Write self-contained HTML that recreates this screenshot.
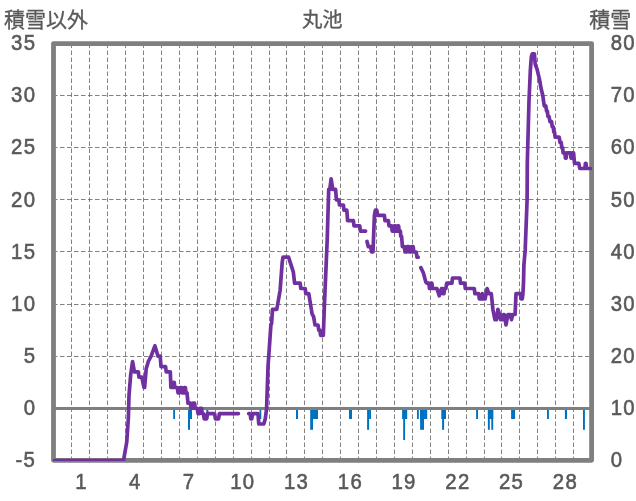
<!DOCTYPE html>
<html lang="ja"><head><meta charset="utf-8"><title>丸池</title>
<style>html,body{margin:0;padding:0;background:#fff}svg{display:block}text{font-family:"Liberation Sans","Noto Sans CJK JP",sans-serif;fill:#595959}</style></head><body>
<svg width="636" height="501" viewBox="0 0 636 501">
<rect width="636" height="501" fill="#fff"/>
<g stroke="#747474" stroke-width="0.9" stroke-dasharray="4.5 2.5" fill="none"><line x1="71.50" y1="43.5" x2="71.50" y2="460.4"/><line x1="89.50" y1="43.5" x2="89.50" y2="460.4"/><line x1="107.50" y1="43.5" x2="107.50" y2="460.4"/><line x1="125.50" y1="43.5" x2="125.50" y2="460.4"/><line x1="143.50" y1="43.5" x2="143.50" y2="460.4"/><line x1="161.50" y1="43.5" x2="161.50" y2="460.4"/><line x1="179.50" y1="43.5" x2="179.50" y2="460.4"/><line x1="197.50" y1="43.5" x2="197.50" y2="460.4"/><line x1="215.50" y1="43.5" x2="215.50" y2="460.4"/><line x1="233.50" y1="43.5" x2="233.50" y2="460.4"/><line x1="251.50" y1="43.5" x2="251.50" y2="460.4"/><line x1="269.50" y1="43.5" x2="269.50" y2="460.4"/><line x1="286.50" y1="43.5" x2="286.50" y2="460.4"/><line x1="304.50" y1="43.5" x2="304.50" y2="460.4"/><line x1="322.50" y1="43.5" x2="322.50" y2="460.4"/><line x1="340.50" y1="43.5" x2="340.50" y2="460.4"/><line x1="358.50" y1="43.5" x2="358.50" y2="460.4"/><line x1="376.50" y1="43.5" x2="376.50" y2="460.4"/><line x1="394.50" y1="43.5" x2="394.50" y2="460.4"/><line x1="412.50" y1="43.5" x2="412.50" y2="460.4"/><line x1="430.50" y1="43.5" x2="430.50" y2="460.4"/><line x1="448.50" y1="43.5" x2="448.50" y2="460.4"/><line x1="466.50" y1="43.5" x2="466.50" y2="460.4"/><line x1="484.50" y1="43.5" x2="484.50" y2="460.4"/><line x1="501.50" y1="43.5" x2="501.50" y2="460.4"/><line x1="519.50" y1="43.5" x2="519.50" y2="460.4"/><line x1="537.50" y1="43.5" x2="537.50" y2="460.4"/><line x1="555.50" y1="43.5" x2="555.50" y2="460.4"/><line x1="573.50" y1="43.5" x2="573.50" y2="460.4"/><line x1="53.0" y1="95.50" x2="591.6" y2="95.50"/><line x1="53.0" y1="147.50" x2="591.6" y2="147.50"/><line x1="53.0" y1="199.50" x2="591.6" y2="199.50"/><line x1="53.0" y1="251.50" x2="591.6" y2="251.50"/><line x1="53.0" y1="304.50" x2="591.6" y2="304.50"/><line x1="53.0" y1="356.50" x2="591.6" y2="356.50"/></g>
<g fill="#0070c0"><rect x="173.2" y="408.2" width="1.8" height="10.8"/><rect x="188.0" y="408.2" width="2.0" height="21.6"/><rect x="190.0" y="408.2" width="2.0" height="10.8"/><rect x="206.3" y="408.2" width="2.1" height="10.8"/><rect x="259.5" y="408.2" width="1.8" height="10.8"/><rect x="296.0" y="408.2" width="2.0" height="10.8"/><rect x="310.2" y="408.2" width="2.8" height="21.6"/><rect x="313.0" y="408.2" width="5.0" height="10.8"/><rect x="349.0" y="408.2" width="3.0" height="10.8"/><rect x="367.1" y="408.2" width="2.0" height="21.6"/><rect x="369.1" y="408.2" width="1.9" height="10.8"/><rect x="402.1" y="408.2" width="5.1" height="10.8"/><rect x="403.2" y="408.2" width="1.9" height="31.8"/><rect x="417.0" y="408.2" width="1.8" height="10.8"/><rect x="420.1" y="408.2" width="7.1" height="10.8"/><rect x="420.1" y="408.2" width="3.9" height="21.6"/><rect x="441.3" y="408.2" width="4.7" height="10.8"/><rect x="442.1" y="408.2" width="2.0" height="21.6"/><rect x="476.1" y="408.2" width="1.9" height="10.8"/><rect x="487.9" y="408.2" width="5.3" height="10.8"/><rect x="487.9" y="408.2" width="1.9" height="21.6"/><rect x="491.3" y="408.2" width="1.9" height="21.6"/><rect x="511.1" y="408.2" width="4.0" height="10.8"/><rect x="547.0" y="408.2" width="1.9" height="10.8"/><rect x="564.9" y="408.2" width="2.1" height="10.8"/><rect x="583.0" y="408.2" width="1.9" height="21.6"/></g>
<line x1="54.0" y1="408.5" x2="591.6" y2="408.5" stroke="#7f7f7f" stroke-width="2.8"/>
<rect x="53.50" y="43.55" width="538.10" height="416.75" fill="none" stroke="#7f7f7f" stroke-width="4.8" stroke-linejoin="round"/>
<clipPath id="pc"><rect x="52.9" y="40" width="539" height="421"/></clipPath>
<g fill="none" stroke="#7030a0" stroke-width="3.7" stroke-linejoin="round" stroke-linecap="round" clip-path="url(#pc)">
<path d="M54.4 460.6 L123.5 460.6 L126.8 441.8 L128.4 417.3 L129.0 395.4 L130.7 374.5 L132.6 361.5 L134.4 371.9 L138.4 371.9 L138.9 377.1 L141.8 377.1 L144.0 387.5 L144.6 387.5 L146.2 368.8 L148.3 361.5 L151.1 356.2 L154.9 345.8 L158.0 356.2 L160.2 356.2 L161.0 366.7 L165.6 366.7 L166.2 371.9 L170.3 371.9 L170.9 387.5 L172.8 387.5 L173.4 382.3 L174.2 382.3 L174.8 387.5 L177.4 387.5 L178.0 392.8 L179.4 392.8 L180.0 387.5 L181.6 387.5 L182.2 392.8 L183.6 392.8 L184.2 387.5 L185.4 387.5 L186.0 392.8 L187.0 392.8 L188.0 403.2 L190.4 403.2 L191.0 408.4 L192.2 408.4 L192.8 403.2 L194.6 403.2 L195.2 408.4 L197.4 408.4 L198.0 413.6 L199.4 413.6 L200.0 408.4 L201.6 408.4 L202.2 413.6 L203.4 413.6 L204.2 418.8 L206.6 418.8 L207.4 413.6 L214.6 413.6 L215.4 418.8 L218.6 418.8 L219.4 413.6 L238.4 413.6"/>
<path d="M248.7 413.6 L250.2 413.6 L250.8 418.8 L251.8 418.8 L252.6 413.6 L258.0 413.6 L258.8 424.0 L263.8 424.0 L265.3 418.8 L266.6 408.4 L268.0 366.7 L270.0 338.0 L270.9 325.0 L271.6 323.4 L272.5 309.3 L276.8 309.3 L280.1 290.5 L282.2 262.4 L283.0 257.2 L288.6 257.2 L290.2 262.4 L293.3 271.8 L294.6 283.2 L300.2 283.2 L300.8 288.5 L305.2 288.5 L305.8 293.7 L308.8 293.7 L312.1 314.0 L313.6 316.6 L315.0 325.0 L318.0 325.0 L318.8 330.2 L320.0 330.2 L320.6 335.4 L323.3 335.4 L324.5 303.1 L327.2 240.0 L328.7 189.4 L329.8 189.4 L331.1 178.9 L332.8 189.4 L335.6 189.4 L336.4 199.8 L338.8 199.8 L339.5 205.0 L343.4 205.0 L344.0 210.2 L346.8 210.2 L347.6 220.7 L353.4 220.7 L354.0 225.9 L359.8 225.9 L360.4 231.1 L365.6 231.1"/>
<path d="M367.0 241.5 L368.3 246.7 L370.6 246.7 L371.6 252.0 L373.0 252.0 L373.8 231.1 L374.4 215.4 L375.4 210.2 L376.8 210.2 L377.7 215.4 L384.4 215.4 L385.0 220.7 L388.4 220.7 L389.0 225.9 L391.6 225.9 L392.2 231.1 L393.6 231.1 L394.2 225.9 L395.4 225.9 L396.0 231.1 L397.0 231.1 L397.6 225.9 L398.6 225.9 L399.2 231.1 L400.4 231.1 L400.8 236.3 L401.6 236.3 L402.4 246.7 L404.4 246.7 L405.0 252.0 L406.6 252.0 L407.2 246.7 L408.8 246.7 L409.4 252.0 L411.0 252.0 L411.6 246.7 L413.2 246.7 L413.8 252.0 L416.2 252.0 L417.0 257.2 L418.2 257.2"/>
<path d="M420.8 267.6 L423.3 272.8 L425.9 282.2 L426.7 283.2 L428.9 283.2 L429.5 288.5 L430.7 288.5 L431.3 283.2 L431.9 283.2 L432.5 288.5 L436.9 288.5 L439.3 295.8 L441.5 288.5 L442.5 288.5 L443.1 293.7 L443.9 293.7 L444.5 288.5 L445.9 288.5 L446.7 283.2 L451.9 283.2 L452.5 278.0 L459.9 278.0 L460.5 283.2 L464.7 283.2 L465.3 288.5 L474.3 288.5 L474.9 293.7 L478.7 293.7 L479.3 298.9 L481.5 298.9 L482.3 293.7 L483.1 298.9 L485.1 298.9 L487.1 288.5 L488.9 293.7 L491.3 293.7 L492.9 309.3 L494.9 319.7 L496.5 319.7 L497.9 309.3 L499.7 314.5 L500.7 319.7 L502.3 319.7 L503.3 314.5 L504.3 314.5 L506.0 325.0 L507.9 314.5 L510.3 314.5 L511.5 319.7 L512.7 314.5 L515.1 314.5 L516.0 293.7 L520.5 293.7 L521.1 298.9 L522.3 298.9 L522.9 293.7 L523.5 283.2 L523.9 265.0 L525.2 249.9 L527.1 199.8 L527.3 163.3 L529.0 100.7 L530.4 69.4 L531.4 56.4 L532.3 53.8 L534.4 53.8 L535.2 64.2 L537.1 69.4 L539.6 79.9 L540.9 87.7 L542.8 95.5 L543.5 100.7 L544.3 105.9 L545.8 105.9 L546.6 111.1 L547.4 111.1 L547.9 116.4 L549.0 116.4 L550.0 121.6 L551.6 121.6 L552.2 126.8 L553.3 126.8 L553.8 132.0 L554.5 132.0 L555.2 137.2 L559.2 137.2 L560.0 142.4 L561.2 142.4 L561.8 147.7 L562.6 147.7 L563.1 152.9 L565.0 152.9 L565.4 158.1 L566.2 158.1 L566.8 152.9 L570.6 152.9 L571.0 158.1 L571.8 158.1 L572.4 152.9 L573.6 152.9 L574.5 163.3 L578.8 163.3 L579.8 168.5 L584.9 168.5 L585.4 163.3 L586.0 163.3 L586.5 168.5 L590.4 168.5"/>
</g>
<g font-size="21px" stroke="#595959" stroke-width="0.3">
<text x="4" y="26.8">積雪以外</text>
<text x="322.3" y="26.8" text-anchor="middle" font-size="20.4px">丸池</text>
<text x="589.2" y="26.8">積雪</text>
</g>
<g font-size="22.6px" letter-spacing="1.4" stroke="#595959" stroke-width="0.6">
<text transform="translate(36.2 467.1) scale(0.90 1)" text-anchor="end">-5</text>
<text transform="translate(36.2 414.9) scale(0.90 1)" text-anchor="end">0</text>
<text transform="translate(36.2 362.9) scale(0.90 1)" text-anchor="end">5</text>
<text transform="translate(36.2 310.8) scale(0.90 1)" text-anchor="end">10</text>
<text transform="translate(36.2 258.7) scale(0.90 1)" text-anchor="end">15</text>
<text transform="translate(36.2 206.6) scale(0.90 1)" text-anchor="end">20</text>
<text transform="translate(36.2 154.4) scale(0.90 1)" text-anchor="end">25</text>
<text transform="translate(36.2 102.4) scale(0.90 1)" text-anchor="end">30</text>
<text transform="translate(36.2 50.3) scale(0.90 1)" text-anchor="end">35</text>
<text transform="translate(610.7 467.1) scale(0.90 1)">0</text>
<text transform="translate(610.7 414.9) scale(0.90 1)">10</text>
<text transform="translate(610.7 362.9) scale(0.90 1)">20</text>
<text transform="translate(610.7 310.8) scale(0.90 1)">30</text>
<text transform="translate(610.7 258.7) scale(0.90 1)">40</text>
<text transform="translate(610.7 206.6) scale(0.90 1)">50</text>
<text transform="translate(610.7 154.4) scale(0.90 1)">60</text>
<text transform="translate(610.7 102.4) scale(0.90 1)">70</text>
<text transform="translate(610.7 50.3) scale(0.90 1)">80</text>
<text transform="translate(81.6 488.7) scale(0.90 1)" text-anchor="middle">1</text>
<text transform="translate(135.3 488.7) scale(0.90 1)" text-anchor="middle">4</text>
<text transform="translate(189.1 488.7) scale(0.90 1)" text-anchor="middle">7</text>
<text transform="translate(242.8 488.7) scale(0.90 1)" text-anchor="middle">10</text>
<text transform="translate(296.6 488.7) scale(0.90 1)" text-anchor="middle">13</text>
<text transform="translate(350.4 488.7) scale(0.90 1)" text-anchor="middle">16</text>
<text transform="translate(404.1 488.7) scale(0.90 1)" text-anchor="middle">19</text>
<text transform="translate(457.9 488.7) scale(0.90 1)" text-anchor="middle">22</text>
<text transform="translate(511.6 488.7) scale(0.90 1)" text-anchor="middle">25</text>
<text transform="translate(565.4 488.7) scale(0.90 1)" text-anchor="middle">28</text>
</g>
</svg></body></html>
